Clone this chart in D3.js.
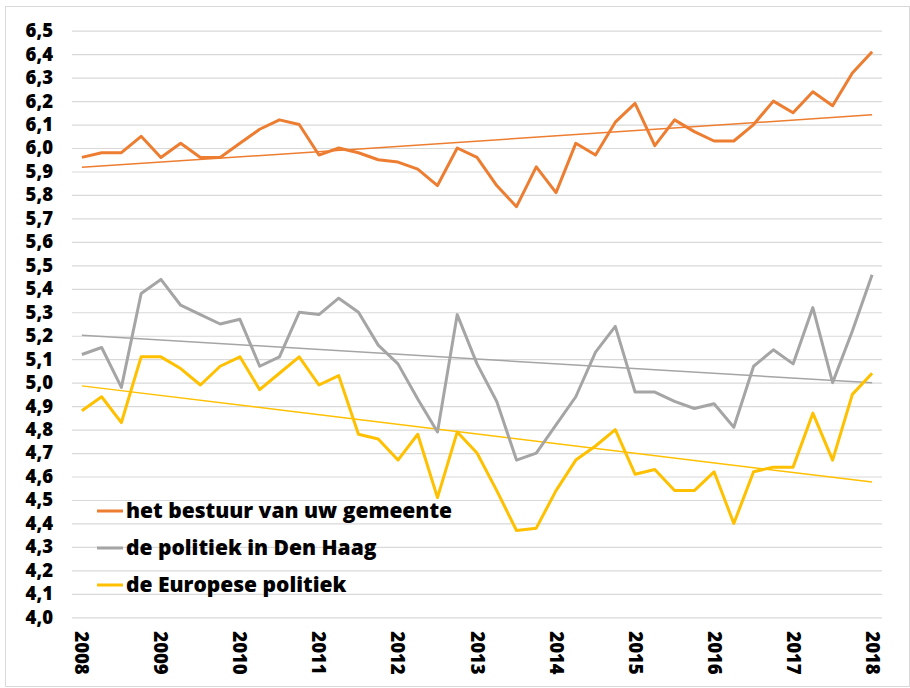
<!DOCTYPE html>
<html>
<head>
<meta charset="utf-8">
<script src="https://cdn.jsdelivr.net/npm/d3@7"></script>
<style>
  body { margin: 0; background: #fff; }
  text { font-family: "Open Sans", "Noto Sans", sans-serif; font-weight: 800; fill: #000; }
</style>
</head>
<body>
<div id="chart"></div>
<script>
// DATA (quarterly, 2008 K1 t/m 2018 K1)
const years = d3.range(2008, 2019);
const quarters = [];
years.forEach(y => [1, 2, 3, 4].forEach(q => { if (y < 2018 || q === 1) quarters.push(y + "-K" + q); }));

const gemeente = [5.96, 5.98, 5.98, 6.05, 5.96, 6.02, 5.96, 5.96, 6.02, 6.08,
  6.12, 6.10, 5.97, 6.00, 5.98, 5.95, 5.94, 5.91, 5.84, 6.00,
  5.96, 5.84, 5.75, 5.92, 5.81, 6.02, 5.97, 6.11, 6.19, 6.01,
  6.12, 6.07, 6.03, 6.03, 6.10, 6.20, 6.15, 6.24, 6.18, 6.32, 6.41];
const denHaag = [5.12, 5.15, 4.98, 5.38, 5.44, 5.33, 5.29, 5.25, 5.27, 5.07,
  5.11, 5.30, 5.29, 5.36, 5.30, 5.16, 5.08, 4.93, 4.79, 5.29,
  5.08, 4.92, 4.67, 4.70, 4.82, 4.94, 5.13, 5.24, 4.96, 4.96,
  4.92, 4.89, 4.91, 4.81, 5.07, 5.14, 5.08, 5.32, 5.00, 5.22, 5.46];
const europa = [4.88, 4.94, 4.83, 5.11, 5.11, 5.06, 4.99, 5.07, 5.11, 4.97,
  5.04, 5.11, 4.99, 5.03, 4.78, 4.76, 4.67, 4.78, 4.51, 4.79,
  4.70, 4.54, 4.37, 4.38, 4.54, 4.67, 4.73, 4.80, 4.61, 4.63,
  4.54, 4.54, 4.62, 4.40, 4.62, 4.64, 4.64, 4.87, 4.67, 4.95, 5.04];

const seriesNames = ["het bestuur van uw gemeente", "de politiek in Den Haag", "de Europese politiek"];
const yTicks = d3.range(40, 66, 1).map(v => v / 10);

const series = [
  { name: seriesNames[0], values: gemeente, color: "#ED7D31" },
  { name: seriesNames[1], values: denHaag, color: "#A5A5A5" },
  { name: seriesNames[2], values: europa, color: "#FFC000" }
];

// Linear trend (least squares) like Excel's trendline
const trend = function(values) {
  const n = values.length;
  const mx = d3.mean(values, (v, i) => i);
  const my = d3.mean(values);
  let sxy = 0, sxx = 0;
  values.forEach((v, i) => { sxy += (i - mx) * (v - my); sxx += (i - mx) * (i - mx); });
  const b = sxy / sxx, a = my - b * mx;
  return [[0, a], [n - 1, a + b * (n - 1)]];
};

// CHART
const svgWidth = 910, svgHeight = 688;
const margin = { top: 30.7, right: 28, bottom: 70.7, left: 72 };
const width = svgWidth - margin.left - margin.right;
const height = svgHeight - margin.top - margin.bottom;

const svg = d3.select("#chart").append("svg")
  .attr("width", svgWidth)
  .attr("height", svgHeight);

// outer chart border
svg.append("rect")
  .attr("x", 5.5).attr("y", 6.5)
  .attr("width", 904).attr("height", 680)
  .attr("fill", "none")
  .attr("stroke", "#d9d9d9");

const chartGroup = svg.append("g")
  .attr("transform", `translate(${margin.left}, ${margin.top})`);

const x = d3.scaleBand().domain(d3.range(quarters.length)).range([0, width]);
const xc = i => x(i) + x.bandwidth() / 2;
const y = d3.scaleLinear().domain([4.0, 6.5]).range([height, 0]);

// gridlines + y labels
const yAxis = chartGroup.append("g")
  .call(d3.axisLeft(y).tickValues(yTicks).tickSize(-width).tickPadding(19)
    .tickFormat(d => d3.format(".1f")(d).replace(".", ",")));
yAxis.select(".domain").remove();
yAxis.selectAll(".tick line").attr("stroke", "#d9d9d9").attr("stroke-width", 1.2);
yAxis.selectAll(".tick text").attr("font-size", 18.5).attr("font-family", "Open Sans").attr("font-weight", 800);

// x labels, rotated
const xAxis = chartGroup.append("g")
  .attr("transform", `translate(0, ${height})`)
  .call(d3.axisBottom(x).tickValues(d3.range(0, quarters.length, 4))
    .tickSize(0).tickFormat(i => quarters[i].slice(0, 4)));
xAxis.select(".domain").remove();
xAxis.selectAll(".tick text")
  .attr("font-size", 18.5).attr("font-family", "Open Sans").attr("font-weight", 800)
  .attr("transform", "rotate(90)")
  .attr("text-anchor", "start")
  .attr("x", 14).attr("y", 0).attr("dy", "0.35em");

const line = d3.line().x((d, i) => xc(i)).y(d => y(d));
const trendLine = d3.line().x(d => xc(d[0])).y(d => y(d[1]));

series.forEach(s => {
  chartGroup.append("path")
    .attr("d", trendLine(trend(s.values)))
    .attr("fill", "none").attr("stroke", s.color).attr("stroke-width", 1.5);
});
series.forEach(s => {
  chartGroup.append("path")
    .attr("d", line(s.values))
    .attr("fill", "none").attr("stroke", s.color)
    .attr("stroke-width", 3).attr("stroke-linejoin", "round");
});

// legend
const legend = svg.append("g").attr("transform", "translate(97, 511)");
series.forEach((s, i) => {
  const g = legend.append("g").attr("transform", `translate(0, ${i * 37})`);
  g.append("line").attr("x1", 0).attr("x2", 26).attr("y1", 0).attr("y2", 0)
    .attr("stroke", s.color).attr("stroke-width", 3);
  g.append("text").attr("x", 29).attr("dy", "0.35em")
    .attr("font-size", 21).text(s.name);
});
</script>
</body>
</html>
